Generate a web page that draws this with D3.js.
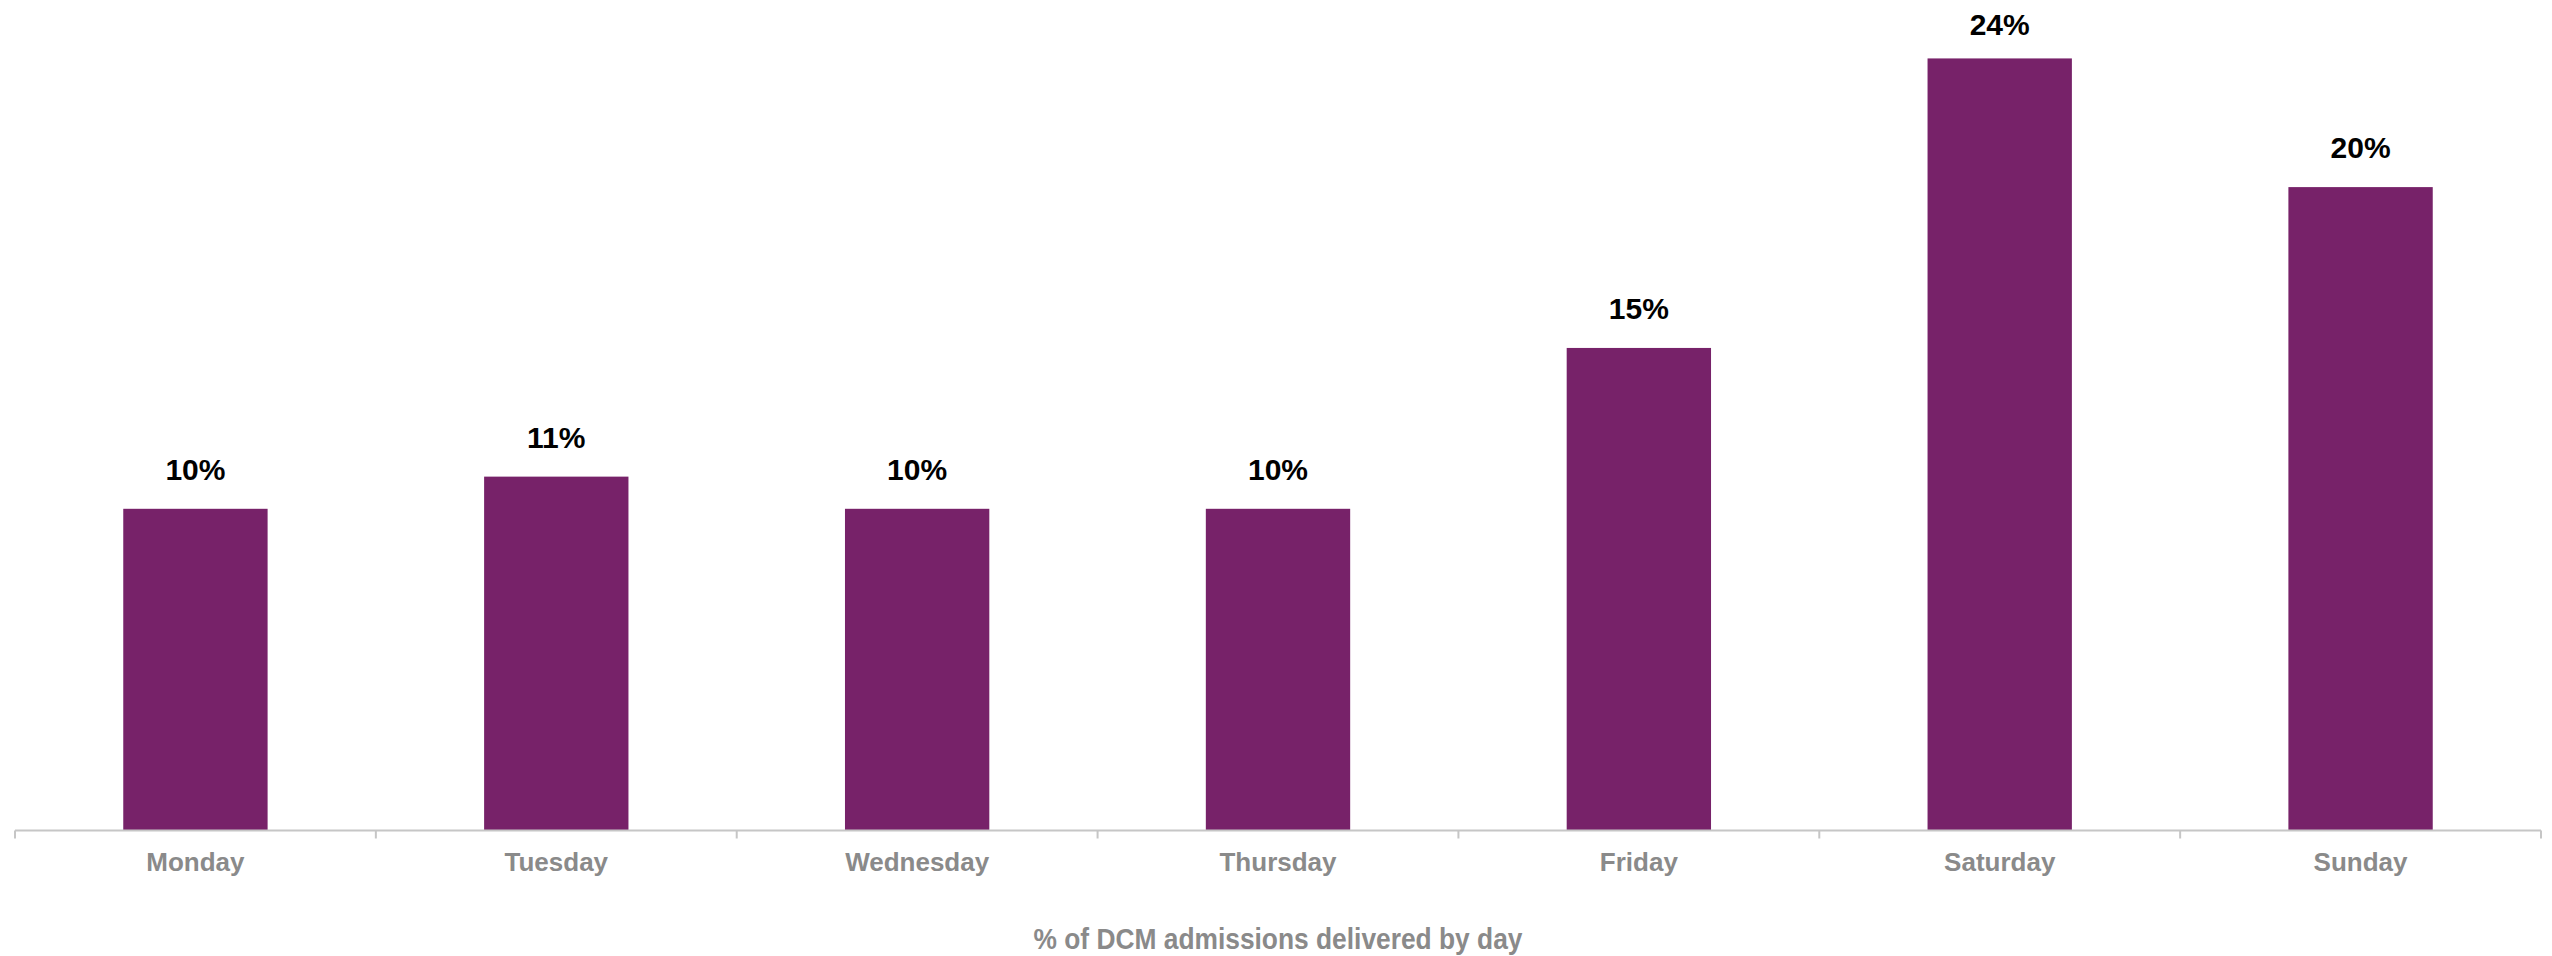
<!DOCTYPE html>
<html>
<head>
<meta charset="utf-8">
<script src="https://cdn.jsdelivr.net/npm/d3@7"></script>
<style>
  html, body { margin: 0; padding: 0; background: #ffffff; }
  svg { display: block; }
</style>
</head>
<body>
<svg id="chart" width="2552" height="956"></svg>
<script>
const categories = ["Monday", "Tuesday", "Wednesday", "Thursday", "Friday", "Saturday", "Sunday"];
const values = [10, 11, 10, 10, 15, 24, 20];
const valueLabels = ["10%", "11%", "10%", "10%", "15%", "24%", "20%"];
const axisTitle = "% of DCM admissions delivered by day";

const W = 2552, H = 956;
const left = 15, right = 2541, baseY = 830.5;
const fontFam = "'Liberation Sans', Arial, Helvetica, sans-serif";

const svg = d3.select("#chart");

const x = d3.scaleBand()
  .domain(categories)
  .range([left, right])
  .paddingInner(0.6)
  .paddingOuter(0.3);

const y = d3.scaleLinear()
  .domain([0, 25])
  .range([baseY, baseY - 25 * 32.17]);

// bars
svg.append("g").selectAll("rect")
  .data(categories)
  .join("rect")
  .attr("x", d => x(d))
  .attr("width", x.bandwidth())
  .attr("y", (d, i) => y(values[i]))
  .attr("height", (d, i) => y(0) - y(values[i]))
  .attr("fill", "#772269");

// value labels (kept inside the chart area at the top)
svg.append("g").selectAll("text")
  .data(categories)
  .join("text")
  .attr("x", d => x(d) + x.bandwidth() / 2)
  .attr("y", (d, i) => Math.max(y(values[i]) - 29, 35))
  .attr("text-anchor", "middle")
  .attr("font-family", fontFam)
  .attr("font-weight", "bold")
  .attr("font-size", 30)
  .attr("fill", "#000000")
  .text((d, i) => valueLabels[i]);

// x axis line with boundary ticks
const bounds = d3.range(categories.length + 1).map(i => left + i * (right - left) / categories.length);
const axisG = svg.append("g");
axisG.append("line")
  .attr("x1", left).attr("x2", right)
  .attr("y1", baseY).attr("y2", baseY)
  .attr("stroke", "#c6c6c6").attr("stroke-width", 2);
axisG.selectAll("line.tick")
  .data(bounds)
  .join("line")
  .attr("class", "tick")
  .attr("x1", d => d).attr("x2", d => d)
  .attr("y1", baseY).attr("y2", baseY + 8)
  .attr("stroke", "#c6c6c6").attr("stroke-width", 2);

// category labels
axisG.selectAll("text")
  .data(categories)
  .join("text")
  .attr("x", d => x(d) + x.bandwidth() / 2)
  .attr("y", 871)
  .attr("text-anchor", "middle")
  .attr("font-family", fontFam)
  .attr("font-weight", "bold")
  .attr("font-size", 26)
  .attr("fill", "#8a8a8a")
  .text(d => d);

// axis title
svg.append("text")
  .attr("x", (left + right) / 2)
  .attr("y", 948.5)
  .attr("text-anchor", "middle")
  .attr("font-family", fontFam)
  .attr("font-weight", "bold")
  .attr("font-size", 29)
  .attr("textLength", 489)
  .attr("lengthAdjust", "spacingAndGlyphs")
  .attr("fill", "#8a8a8a")
  .text(axisTitle);
</script>
</body>
</html>
